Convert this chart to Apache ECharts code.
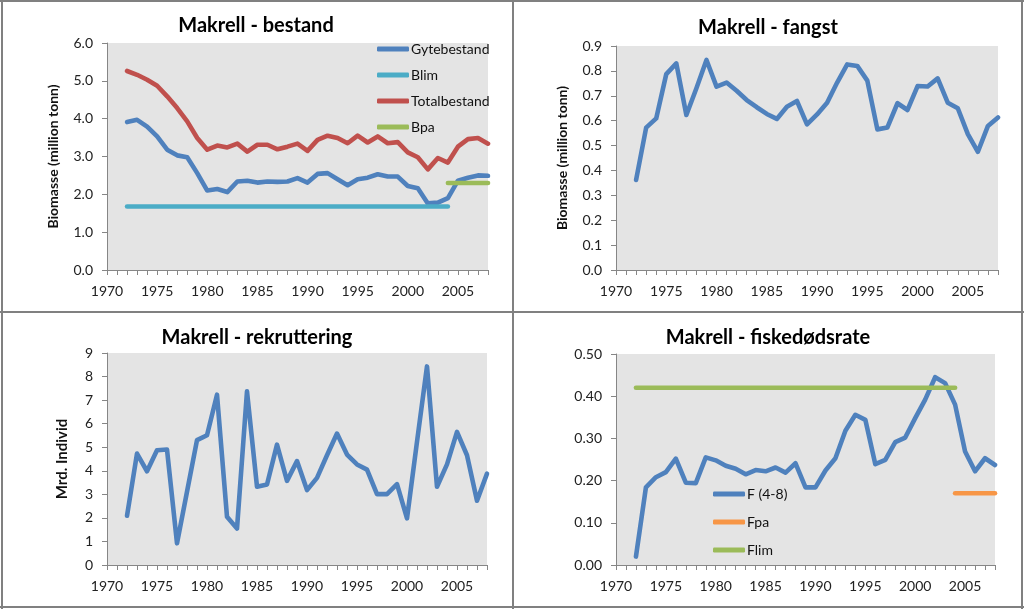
<!DOCTYPE html>
<html>
<head>
<meta charset="utf-8">
<script src="https://cdn.jsdelivr.net/npm/echarts@6/dist/echarts.min.js"></script>
<style>
html,body{margin:0;padding:0;background:#fff;}
#c{width:1024px;height:609px;}
</style>
</head>
<body>
<div id="c"></div>
<script>
const years = [];
for (let y = 1972; y <= 2008; y++) years.push(y);

const gytebestand = [3.91,3.97,3.79,3.53,3.18,3.03,2.98,2.56,2.10,2.14,2.06,2.34,2.36,2.31,2.34,2.33,2.34,2.43,2.31,2.54,2.56,2.40,2.24,2.40,2.44,2.53,2.47,2.47,2.22,2.16,1.76,1.78,1.90,2.36,2.44,2.50,2.49];
const totalbestand = [5.26,5.16,5.03,4.87,4.59,4.28,3.93,3.49,3.18,3.29,3.24,3.34,3.13,3.31,3.31,3.19,3.26,3.34,3.15,3.44,3.55,3.49,3.35,3.55,3.37,3.53,3.35,3.38,3.11,2.98,2.66,2.96,2.84,3.26,3.46,3.49,3.34];
const blimYears = [1972, 2004];
const blimValues = [1.68, 1.68];
const bpaYears = [2004, 2008];
const bpaValues = [2.30, 2.30];

const fangst = [0.362,0.572,0.609,0.787,0.830,0.623,0.730,0.844,0.737,0.753,0.720,0.683,0.654,0.627,0.607,0.656,0.679,0.585,0.625,0.672,0.753,0.826,0.820,0.761,0.565,0.573,0.670,0.643,0.739,0.737,0.770,0.672,0.650,0.546,0.475,0.579,0.613];

const rekruttering = [2.09,4.73,3.98,4.87,4.90,0.92,3.11,5.30,5.51,7.23,2.05,1.55,7.37,3.32,3.42,5.11,3.57,4.41,3.18,3.70,4.66,5.58,4.69,4.27,4.05,3.01,3.01,3.43,1.98,5.23,8.43,3.32,4.27,5.65,4.66,2.73,3.88];

const fiske = [0.020,0.184,0.208,0.220,0.252,0.195,0.194,0.255,0.248,0.235,0.228,0.215,0.225,0.222,0.231,0.219,0.241,0.184,0.184,0.224,0.253,0.318,0.356,0.344,0.239,0.249,0.291,0.302,0.348,0.392,0.445,0.431,0.380,0.269,0.222,0.253,0.237];
const flimYears = [1972, 2004];
const flimValues = [0.42, 0.42];
const fpaYears = [2004, 2008];
const fpaValues = [0.17, 0.17];

const titles = ['Makrell - bestand', 'Makrell - fangst', 'Makrell - rekruttering', 'Makrell - fiskedødsrate'];
const yNames = ['Biomasse (million tonn)', 'Biomasse (million tonn)', 'Mrd. Individ', ''];

const FONT = 'Lato, "Open Sans", sans-serif';
const C = { blue:'#4F81BD', cyan:'#4BACC6', red:'#C0504D', green:'#9BBB59', orange:'#F79646' };
const pair = (xs, vs) => xs.map((x, i) => [x, vs[i]]);

const grids = [
  {left:107, right:536, top:43, bottom:339},
  {left:616, right:26, top:46, bottom:339},
  {left:107, right:537, top:353, bottom:44},
  {left:616, right:29, top:354, bottom:44}
];
const yCfg = [
  {max:6, interval:1, dec:1, gap:47, nameSize:14},
  {max:0.9, interval:0.1, dec:1, gap:47, nameSize:14},
  {max:9, interval:1, dec:0, gap:37, nameSize:15},
  {max:0.5, interval:0.1, dec:2, gap:47, nameSize:14}
];

const xAxes = grids.map((g, i) => ({
  type:'value', gridIndex:i, min:1970, max:2008, interval:1,
  axisLine:{show:true, lineStyle:{color:'#868686', width:1}},
  axisTick:{show:true, length:5, lineStyle:{color:'#868686'}},
  splitLine:{show:false},
  axisLabel:{margin:14, color:'#222', fontFamily:FONT, fontSize:14,
    formatter: v => (v % 5 === 0 ? String(v) : ''), showMaxLabel:true}
}));
const yAxes = grids.map((g, i) => ({
  type:'value', gridIndex:i, min:0, max:yCfg[i].max, interval:yCfg[i].interval,
  name: yNames[i], nameLocation:'middle', nameGap:yCfg[i].gap,
  nameTextStyle:{fontFamily:FONT, fontSize:yCfg[i].nameSize, fontWeight:'bold', color:'#111'},
  axisLine:{show:true, lineStyle:{color:'#868686', width:1}},
  axisTick:{show:true, length:5, lineStyle:{color:'#868686'}},
  splitLine:{show:false},
  axisLabel:{margin:14, color:'#222', fontFamily:FONT, fontSize:14,
    formatter: v => v.toFixed(yCfg[i].dec)}
}));

function line(name, data, color, gi) {
  return {name, type:'line', xAxisIndex:gi, yAxisIndex:gi, data, symbol:'none',
    lineStyle:{color, width:4.6, cap:'round', join:'round'}, itemStyle:{color}, animation:false, z:3};
}

const series = [
  line('Gytebestand', pair(years, gytebestand), C.blue, 0),
  line('Blim', pair(blimYears, blimValues), C.cyan, 0),
  line('Totalbestand', pair(years, totalbestand), C.red, 0),
  line('Bpa', pair(bpaYears, bpaValues), C.green, 0),
  line('Fangst', pair(years, fangst), C.blue, 1),
  line('Rekruttering', pair(years, rekruttering), C.blue, 2),
  line('F (4-8)', pair(years, fiske), C.blue, 3),
  line('Fpa', pair(fpaYears, fpaValues), C.orange, 3),
  line('Flim', pair(flimYears, flimValues), C.green, 3)
];

const legendCommon = {orient:'vertical', icon:'roundRect', itemWidth:32, itemHeight:5,
  textStyle:{fontFamily:FONT, fontSize:14, color:'#111', lineHeight:16, padding:[0,0,0,-3]},
  selectedMode:false, padding:0};

const centers = [[256,26],[768,28],[257,338],[768,338]];
const graphics = [];
titles.forEach((t, i) => {
  graphics.push({type:'text', x:centers[i][0], y:centers[i][1], z:10,
    style:{text:t, fill:'#000', font:'bold 20px ' + FONT, textAlign:'center', textVerticalAlign:'middle'}});
});
const border = '#808080';
[[0,1,1024,1],[2,0,2,609],[1022,0,1022,609],[0,607,1024,607],[513,0,513,609],[0,312,1024,312]].forEach(l => {
  graphics.push({type:'line', shape:{x1:l[0],y1:l[1],x2:l[2],y2:l[3]}, style:{stroke:border, lineWidth:2}, z:10});
});

const chart = echarts.init(document.getElementById('c'), null, {renderer:'canvas'});
chart.setOption({
  backgroundColor:'#fff',
  animation:false,
  grid: grids.map(g => Object.assign({show:true, backgroundColor:'#E4E4E4', borderWidth:0, containLabel:false}, g)),
  xAxis: xAxes,
  yAxis: yAxes,
  legend: [
    Object.assign({left:377, top:41, itemGap:10, data:['Gytebestand','Blim','Totalbestand','Bpa']}, legendCommon),
    Object.assign({left:713, top:486, itemGap:12, data:['F (4-8)','Fpa','Flim']}, legendCommon)
  ],
  series,
  graphic: graphics
});
</script>
</body>
</html>
